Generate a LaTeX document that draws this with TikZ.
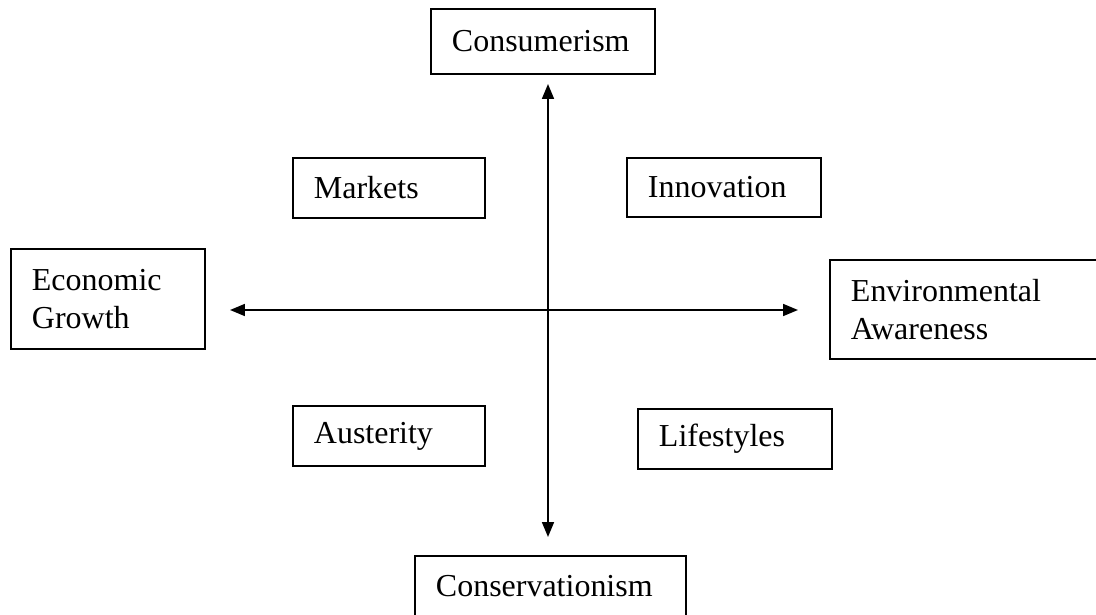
\documentclass[tikz,border=0pt]{standalone}
\usepackage{fontspec}
\setmainfont{Liberation Serif}
\usetikzlibrary{arrows.meta}

\begin{document}
\begin{tikzpicture}[x=0.02cm, y=-0.02cm,
    tbox/.style={rectangle, draw, line width=1.1pt, anchor=north west,
      align=left, inner xsep=0.42cm, inner ysep=0pt,
      font=\fontsize{18.2}{21.6}\selectfont},
    axis/.style={line width=1pt, {Triangle[length=0.3cm,width=0.24cm]}-{Triangle[length=0.3cm,width=0.24cm]}}
    ]
\useasboundingbox (0,0) rectangle (1096,615);

\node[tbox, text width=3.64cm, minimum height=1.30cm] (cons) at (430,8) {Consumerism};
\node[tbox, text width=3.00cm, minimum height=1.20cm] (mark) at (292,157) {Markets};
\node[tbox, text width=3.04cm, minimum height=1.18cm] (innov) at (626,157) {Innovation};
\node[tbox, text width=3.04cm, minimum height=2.00cm] (econ) at (10,248) {Economic\\Growth};
\node[tbox, text width=4.80cm, minimum height=1.98cm] (env) at (829,259) {Environmental\\Awareness};
\node[tbox, text width=3.00cm, minimum height=1.20cm] (aust) at (292,405) {Austerity};
\node[tbox, text width=3.04cm, minimum height=1.20cm] (life) at (637,408) {Lifestyles};
\node[tbox, text width=4.58cm, minimum height=1.20cm] (consv) at (414,555) {Conservationism};

\coordinate (up) at (548,84);
\coordinate (down) at (548,537);
\coordinate (lt) at (230,310);
\coordinate (rt) at (798,310);

\draw[axis] (down) -- (up);
\draw[axis] (lt) -- (rt);
\end{tikzpicture}
\end{document}
